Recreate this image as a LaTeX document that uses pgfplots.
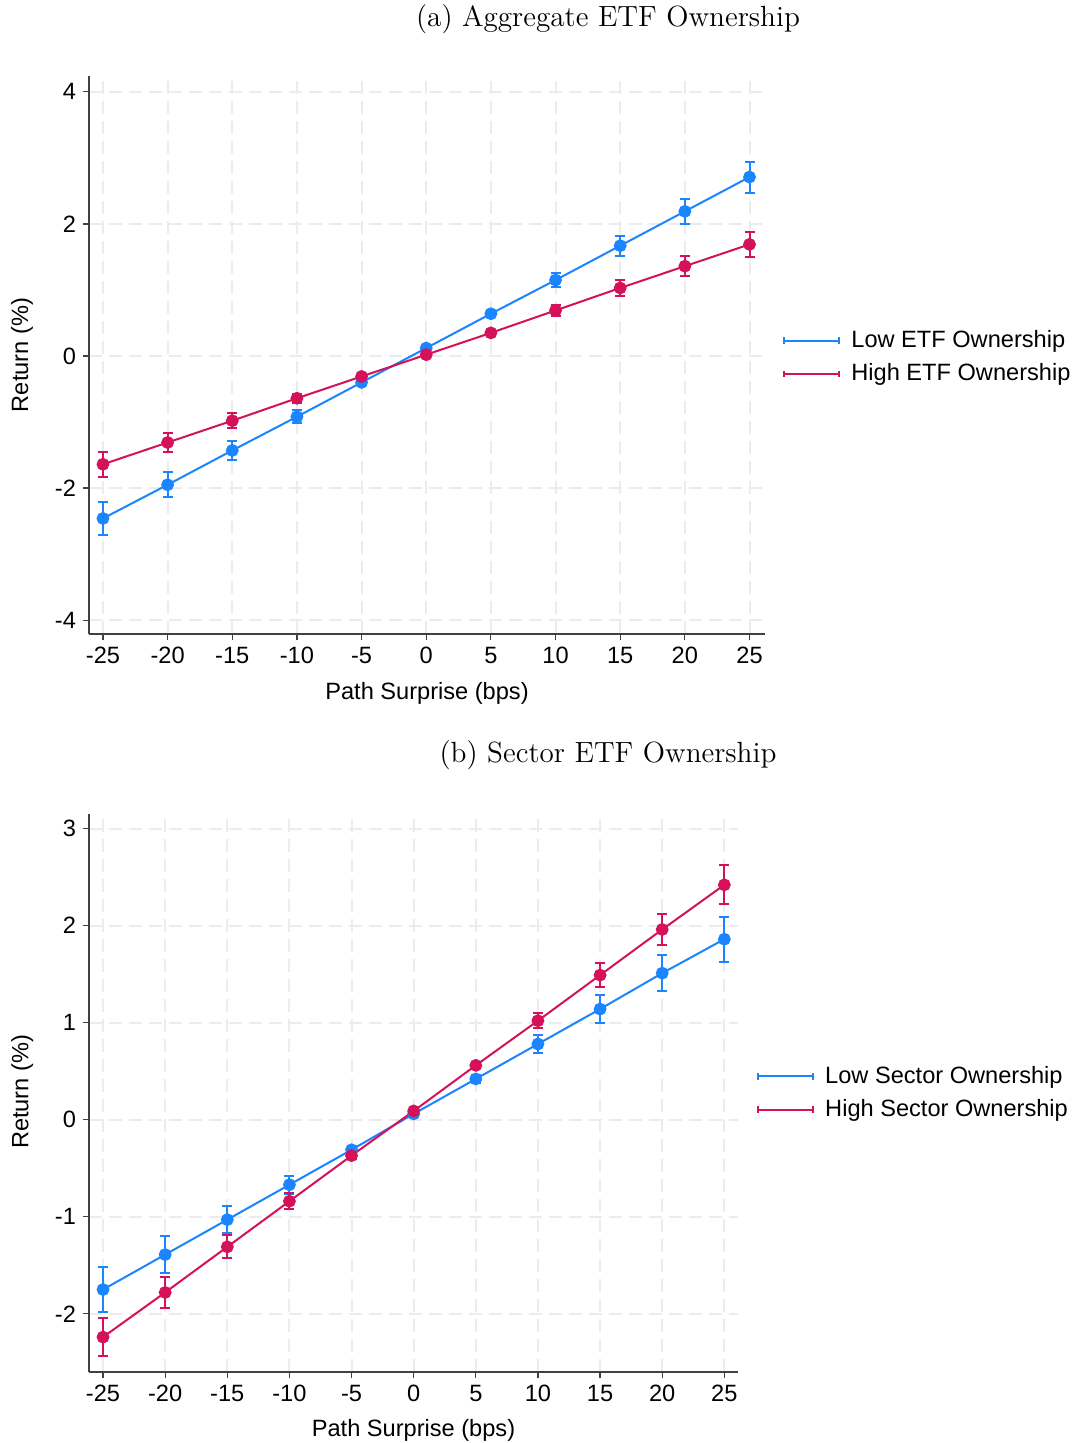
\documentclass[border=0pt]{standalone}
\usepackage{fontspec}
\usepackage{pgfplots}
\usepackage{pgfplotstable}
\pgfplotsset{compat=1.18}
\newfontfamily\arial{Liberation Sans}
\definecolor{stcblue}{RGB}{26,133,255}
\definecolor{stcred}{RGB}{212,17,89}
\definecolor{gridc}{RGB}{236,236,236}

\pgfplotstableread{
x y e
-25 -2.46 0.245
-20 -1.95 0.19
-15 -1.43 0.145
-10 -0.92 0.095
-5 -0.40 0.035
0 0.12 0.025
5 0.64 0.03
10 1.15 0.10
15 1.67 0.15
20 2.19 0.19
25 2.71 0.235
}\aggLow
\pgfplotstableread{
x y e
-25 -1.64 0.185
-20 -1.31 0.15
-15 -0.98 0.115
-10 -0.64 0.07
-5 -0.31 0.035
0 0.02 0.02
5 0.35 0.03
10 0.69 0.08
15 1.03 0.115
20 1.36 0.15
25 1.69 0.19
}\aggHigh
\pgfplotstableread{
x y e
-25 -1.75 0.235
-20 -1.39 0.19
-15 -1.03 0.14
-10 -0.67 0.095
-5 -0.31 0.04
0 0.06 0.02
5 0.42 0.04
10 0.78 0.09
15 1.14 0.14
20 1.51 0.185
25 1.86 0.23
}\secLow
\pgfplotstableread{
x y e
-25 -2.24 0.20
-20 -1.78 0.16
-15 -1.31 0.12
-10 -0.84 0.085
-5 -0.37 0.03
0 0.09 0.02
5 0.56 0.03
10 1.02 0.08
15 1.49 0.12
20 1.96 0.16
25 2.42 0.20
}\secHigh

\pgfplotsset{
  stata/.style={
    scale only axis,
    axis lines*=left,
    axis line style={black!75, line width=0.6pt, -},
    tick align=outside,
    major tick length=3pt,
    tick style={black!75, line width=0.6pt},
    grid=major,
    major grid style={gridc, line width=1pt, dash pattern=on 6.5pt off 3.5pt},
    xtick={-25,-20,...,25},
    /pgf/number format/assume math mode=true,
    tick label style={font=\arial\fontsize{11.8}{14}\selectfont},
    label style={font=\arial\fontsize{11.8}{14}\selectfont},
    ylabel={Return (\%)},
    xlabel={Path Surprise (bps)},
    legend style={draw=none, fill=none, inner sep=0pt, row sep=6.5pt,
      font=\arial\fontsize{11.8}{14}\selectfont,
      nodes={inner sep=0pt}},
    legend cell align=left,
    legend image code/.code={
      \draw[#1, mark=none] (0pt,0pt) -- (27.5pt,0pt);
      \draw[#1, mark=none] (0pt,-1.6pt) -- (0pt,1.6pt);
      \draw[#1, mark=none] (27.5pt,-1.6pt) -- (27.5pt,1.6pt);
      \path (33pt,0pt);
    },
  },
  ser/.style={color=#1, line width=1pt, mark=*, mark size=2.7pt,
    mark options={solid, fill=#1, draw=#1},
    error bars/.cd, y dir=both, y explicit,
    error bar style={line width=1pt, color=#1},
    error mark options={line width=1pt, mark size=2.5pt, rotate=90, color=#1}},
}

\begin{document}
\begin{tikzpicture}
\path[use as bounding box] (0,0) rectangle (537.5pt,-721.5pt);
\node[font=\fontsize{14.6}{17}\selectfont] at (304pt,-9.5pt) {(a) Aggregate ETF Ownership};
\node[font=\fontsize{14.6}{17}\selectfont] at (304pt,-377.5pt) {(b) Sector ETF Ownership};

\begin{axis}[stata,
  at={(44.5pt,-317pt)}, anchor=south west,
  width=338pt, height=279pt,
  xmin=-26.08, xmax=26.2, ymin=-4.21, ymax=4.24,
  ytick={-4,-2,0,2,4},
  xlabel style={at={(axis description cs:0.5,-0.107)}, anchor=center},
  ylabel style={at={(axis description cs:-0.099,0.5)}, anchor=center},
  legend style={at={(axis description cs:1.0266,0.496)}, anchor=west},
]
\addplot[ser=stcblue] table[x=x, y=y, y error=e] {\aggLow};
\addlegendentry{Low ETF Ownership}
\addplot[ser=stcred] table[x=x, y=y, y error=e] {\aggHigh};
\addlegendentry{High ETF Ownership}
\end{axis}

\begin{axis}[stata,
  at={(44.5pt,-686pt)}, anchor=south west,
  width=324.5pt, height=279pt,
  xmin=-26.13, xmax=26.1, ymin=-2.6, ymax=3.15,
  ytick={-2,-1,0,1,2,3},
  xlabel style={at={(axis description cs:0.5,-0.104)}, anchor=center},
  ylabel style={at={(axis description cs:-0.103,0.502)}, anchor=center},
  legend style={at={(axis description cs:1.029,0.5)}, anchor=west},
]
\addplot[ser=stcblue] table[x=x, y=y, y error=e] {\secLow};
\addlegendentry{Low Sector Ownership}
\addplot[ser=stcred] table[x=x, y=y, y error=e] {\secHigh};
\addlegendentry{High Sector Ownership}
\end{axis}
\end{tikzpicture}
\end{document}
